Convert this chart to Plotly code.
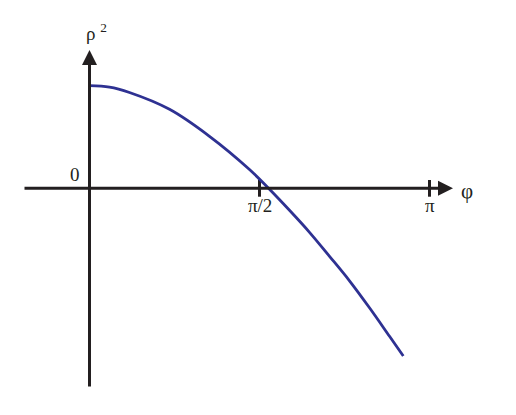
import numpy as np
import plotly.graph_objects as go

# ---- data ----
phi_over_pi = [0.0, 0.0588, 0.1176, 0.2353, 0.3529, 0.4706, 0.5265, 0.5882, 0.6471,
               0.7059, 0.7647, 0.8235, 0.8824, 0.9229]
rho2 = [1.026, 1.012, 0.958, 0.79, 0.52, 0.188, 0.0, -0.22, -0.44,
        -0.68, -0.925, -1.195, -1.48, -1.677]
tick_vals = [np.pi / 2, np.pi]
tick_text = ["π/2", "π"]
x_label = "φ"
y_label = "ρ <sup>2</sup>"
origin_label = "0"

phi = [p * np.pi for p in phi_over_pi]

# ---- layout geometry ----
W, H = 516, 415
X0, Y0 = 89.5, 188.3          # pixel position of the origin
SX = 340 / np.pi              # px per radian
SY = 100.0                    # px per unit of rho^2

def dx(px):
    return (px - X0) / SX

def dy(py):
    return (Y0 - py) / SY

AXIS_COLOR = "#231f20"
CURVE_COLOR = "#2e3192"
FONT = dict(family="Liberation Serif, Times New Roman, serif", size=19, color=AXIS_COLOR)

fig = go.Figure()

# tick marks crossing the phi axis
for t in tick_vals:
    fig.add_trace(go.Scatter(x=[t, t], y=[dy(180), dy(196.7)], mode="lines",
                             line=dict(color=AXIS_COLOR, width=3), hoverinfo="skip"))

# curve
fig.add_trace(go.Scatter(x=phi, y=rho2, mode="lines",
                         line=dict(color=CURVE_COLOR, width=2.8, shape="spline", smoothing=1.0),
                         hoverinfo="skip"))

annotations = []
# phi axis with arrow
annotations.append(dict(x=dx(453), y=0, ax=dx(23), ay=0, xref="x", yref="y", axref="x", ayref="y",
                        showarrow=True, arrowhead=2, arrowsize=1.0, arrowwidth=3,
                        arrowcolor=AXIS_COLOR, text=""))
# rho^2 axis with arrow
annotations.append(dict(x=0, y=dy(50), ax=0, ay=dy(388), xref="x", yref="y", axref="x", ayref="y",
                        showarrow=True, arrowhead=2, arrowsize=1.0, arrowwidth=3,
                        arrowcolor=AXIS_COLOR, text=""))
# tick labels
for t, s in zip(tick_vals, tick_text):
    annotations.append(dict(x=t, y=dy(205), xref="x", yref="y", text=s, showarrow=False,
                            font=FONT, xanchor="center", yanchor="middle"))
# axis labels
annotations.append(dict(x=dx(467), y=dy(191), xref="x", yref="y", text=x_label, showarrow=False,
                        font=dict(FONT, size=21), xanchor="center", yanchor="middle"))
annotations.append(dict(x=dx(96), y=dy(32), xref="x", yref="y", text=y_label, showarrow=False,
                        font=FONT, xanchor="center", yanchor="middle"))
annotations.append(dict(x=dx(75), y=dy(174), xref="x", yref="y", text=origin_label, showarrow=False,
                        font=FONT, xanchor="center", yanchor="middle"))

fig.update_layout(
    width=W, height=H,
    margin=dict(l=0, r=0, t=0, b=0),
    paper_bgcolor="white", plot_bgcolor="white",
    showlegend=False,
    xaxis=dict(range=[dx(0), dx(W)], visible=False, fixedrange=True),
    yaxis=dict(range=[dy(H), dy(0)], visible=False, fixedrange=True),
    annotations=annotations,
)

fig.write_html("out.html", post_script="document.body.style.margin='0';",
               config={"displayModeBar": False})
